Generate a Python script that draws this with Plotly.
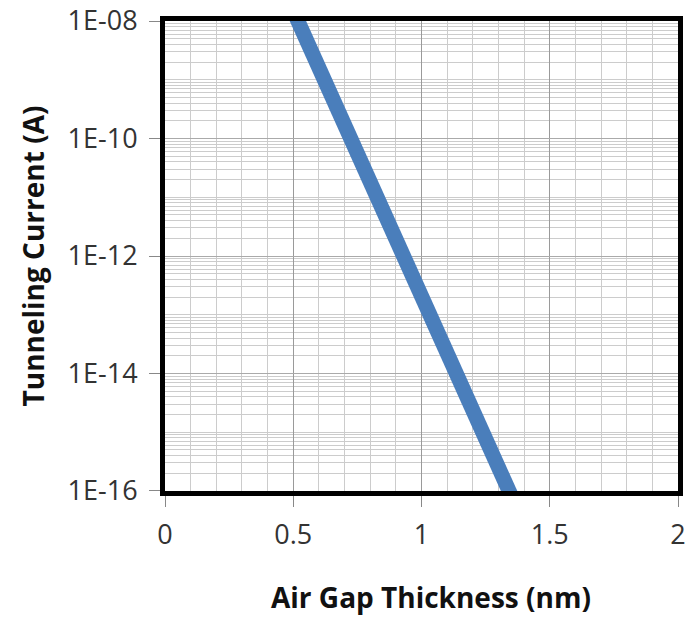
import plotly.graph_objects as go

# Tunneling current vs. air gap thickness (read values)
gap_nm = [0.5, 0.6, 0.7, 0.8, 0.9, 1.0, 1.1, 1.2, 1.3, 1.4]
current_A = [1.5e-8, 1.6e-9, 1.7e-10, 1.85e-11, 2.0e-12, 2.1e-13, 2.2e-14, 2.35e-15, 2.5e-16, 2.7e-17]

# Axis ticks
x_ticks = [0, 0.5, 1, 1.5, 2]
x_tick_text = ["0", "0.5", "1", "1.5", "2"]
y_ticks = [1e-16, 1e-14, 1e-12, 1e-10, 1e-8]
y_tick_text = ["1E-16", "1E-14", "1E-12", "1E-10", "1E-08"]

# Minor grid positions: every 0.1 nm, and 1..9 per decade
x_minor = [i / 10 for i in range(0, 21)]
y_minor = [m * 10.0 ** e for e in range(-16, -8) for m in range(1, 10)]

fig = go.Figure()
fig.add_trace(go.Scatter(
    x=gap_nm, y=current_A, mode="lines",
    line=dict(color="#4A7EBB", width=15),
    showlegend=False,
))

tick_font = dict(family="Open Sans, sans-serif", size=27, color="#333333")
title_font = dict(family="Open Sans, sans-serif", size=28, color="#111111")

fig.update_layout(
    width=686, height=620,
    margin=dict(l=165, r=8, t=21, b=129),
    paper_bgcolor="white", plot_bgcolor="white",
    xaxis=dict(
        range=[0, 2],
        tickmode="array", tickvals=x_ticks, ticktext=x_tick_text,
        tickfont=tick_font,
        ticks="outside", ticklen=11, tickwidth=1, tickcolor="#888888",
        showgrid=True, gridcolor="#9a9a9a", gridwidth=1,
        minor=dict(tickmode="array", tickvals=x_minor, showgrid=True,
                   gridcolor="#cccccc", gridwidth=1, ticks=""),
        showline=True, linecolor="black", linewidth=5, mirror=True,
        zeroline=False,
        ticklabelstandoff=5,
        ticklabeloverflow="allow",
        automargin=False,
    ),
    yaxis=dict(
        type="log", range=[-16.0005, -7.9995],
        tickmode="array", tickvals=y_ticks, ticktext=y_tick_text,
        tickfont=tick_font,
        ticks="outside", ticklen=11, tickwidth=1, tickcolor="#888888",
        showgrid=True, gridcolor="#aaaaaa", gridwidth=1,
        minor=dict(tickmode="array", tickvals=y_minor, showgrid=True,
                   gridcolor="#cccccc", gridwidth=1, ticks=""),
        showline=True, linecolor="black", linewidth=5, mirror=True,
        zeroline=False,
        title=dict(text="<b>Tunneling Current (A)</b>", font=title_font, standoff=16),
        ticklabelstandoff=6,
        ticklabeloverflow="allow",
        automargin=False,
    ),
    annotations=[dict(
        text="<b>Air Gap Thickness (nm)</b>", font=title_font,
        xref="paper", yref="paper", x=0.518, y=-0.225,
        xanchor="center", yanchor="middle", showarrow=False,
    )],
)

fig.write_html("out.html")
